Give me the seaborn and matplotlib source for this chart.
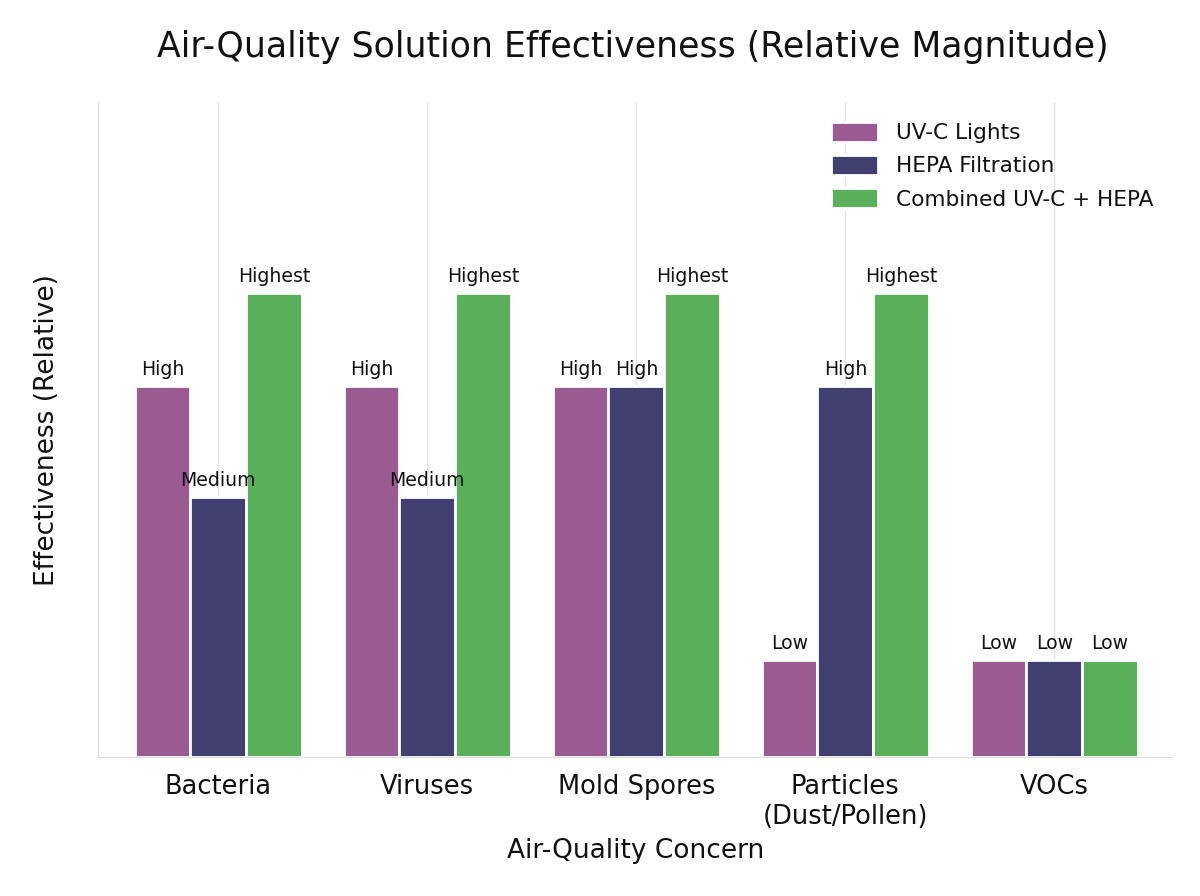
import numpy as np
import pandas as pd
import matplotlib.pyplot as plt
import seaborn as sns

concerns = ['Bacteria', 'Viruses', 'Mold Spores', 'Particles\n(Dust/Pollen)', 'VOCs']
solutions = ['UV-C Lights', 'HEPA Filtration', 'Combined UV-C + HEPA']
level_values = {'Low': 0.21, 'Medium': 0.56, 'High': 0.8, 'Highest': 1.0}

uvc_levels = ['High', 'High', 'High', 'Low', 'Low']
hepa_levels = ['Medium', 'Medium', 'High', 'High', 'Low']
combined_levels = ['Highest', 'Highest', 'Highest', 'Highest', 'Low']

colors = ['#9a5b93', '#413f6f', '#5aaf5b']

rows = []
for sol, levels in zip(solutions, [uvc_levels, hepa_levels, combined_levels]):
    for c, lv in zip(concerns, levels):
        rows.append({'Concern': c, 'Solution': sol, 'Level': lv, 'Value': level_values[lv]})
df = pd.DataFrame(rows)

sns.set_style('whitegrid')
plt.rcParams['text.color'] = '#111111'
plt.rcParams['axes.labelcolor'] = '#111111'
plt.rcParams['xtick.color'] = '#111111'

fig = plt.figure(figsize=(12, 8.96), dpi=100)
ax = fig.add_axes([0.082, 0.155, 0.895, 0.731])

sns.barplot(data=df, x='Concern', y='Value', hue='Solution', order=concerns,
            hue_order=solutions, palette=colors, width=0.8, saturation=1,
            edgecolor='white', linewidth=2, ax=ax)

for cont, levels in zip(ax.containers, [uvc_levels, hepa_levels, combined_levels]):
    ax.bar_label(cont, labels=levels, padding=5, fontsize=13.6)

ax.set_ylim(0, 1.41)
ax.set_xlim(-0.574, 4.565)
ax.set_yticks([])
ax.grid(axis='y', visible=False)
ax.grid(axis='x', color='#e3e3e3', linewidth=1)
sns.despine(ax=ax)
for s in ['left', 'bottom']:
    ax.spines[s].set_color('#dddddd')

ax.tick_params(axis='x', labelsize=18.5, length=0, pad=12)
ax.set_xlabel('Air-Quality Concern', fontsize=19, labelpad=6)
ax.set_ylabel('Effectiveness (Relative)', fontsize=19, labelpad=28)
fig.suptitle('Air-Quality Solution Effectiveness (Relative Magnitude)', fontsize=25,
             x=0.527, y=0.967)

ax.legend(loc='upper right', frameon=False, fontsize=15.6, handlelength=2.2,
          handleheight=1.05, labelspacing=0.55, bbox_to_anchor=(1.0, 1.0))

fig.savefig('out.png', dpi=100)
